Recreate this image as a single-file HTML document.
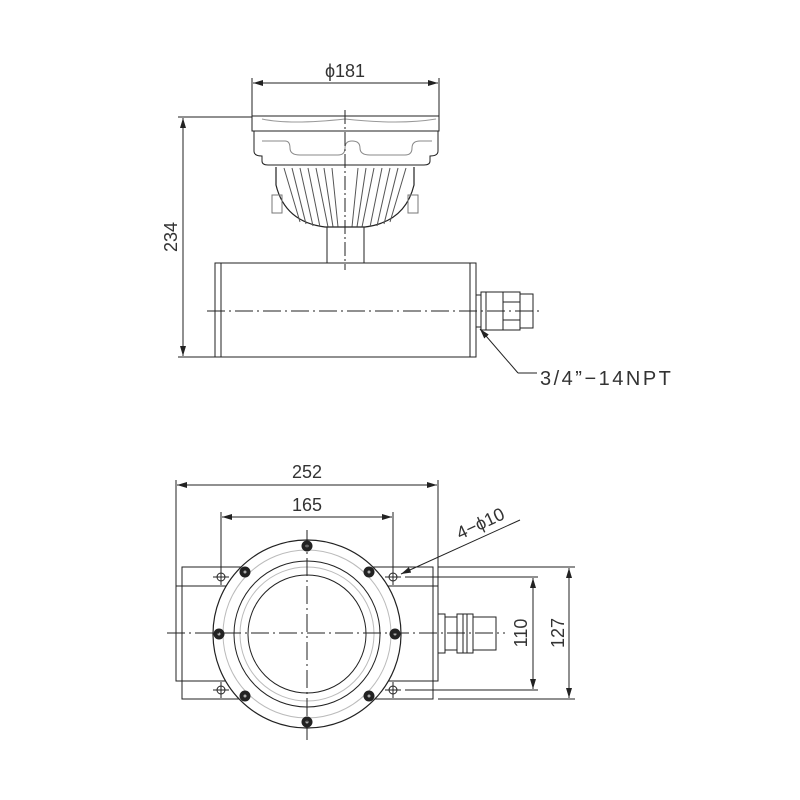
<!DOCTYPE html>
<html><head><style>body{margin:0;background:#fff}svg{display:block}</style></head><body>
<svg width="800" height="800" viewBox="0 0 800 800" xmlns="http://www.w3.org/2000/svg" font-family="Liberation Sans, sans-serif" fill="none" stroke="#222" stroke-width="1">
<defs>
<marker id="a" viewBox="0 0 10 6" refX="10" refY="3" markerWidth="10" markerHeight="6" orient="auto-start-reverse" markerUnits="userSpaceOnUse"><path d="M0,0 L10,3 L0,6z" fill="#222" stroke="none"/></marker>
</defs>
<!-- TOP VIEW -->
<line x1="252" y1="116" x2="252" y2="78"/><line x1="439" y1="116" x2="439" y2="78"/>
<line x1="253" y1="83" x2="438" y2="83" marker-start="url(#a)" marker-end="url(#a)"/>
<text x="345" y="77" font-size="18" fill="#333" stroke="none" text-anchor="middle">ϕ181</text>
<line x1="178" y1="117" x2="252" y2="117"/><line x1="178" y1="357" x2="215" y2="357"/>
<line x1="183" y1="118" x2="183" y2="356" marker-start="url(#a)" marker-end="url(#a)"/>
<text transform="translate(177,237) rotate(-90)" font-size="18" fill="#333" stroke="none" text-anchor="middle">234</text>
<!-- flange -->
<rect x="252" y="116" width="187" height="15"/>
<path d="M254,131 V151 Q254,156 262,156 V161 Q262,165 268,165 H424 Q430,165 430,161 V156 Q438,156 438,151 V131"/>
<path d="M262,141 H285 Q290,141 290,148 Q290,155 300,155 H338 Q345,155 345,148 Q345,141 352,141 Q360,141 360,148 Q360,155 370,155 H405 Q412,155 412,148 Q412,141 420,141 H432" stroke="#888"/>
<path d="M262,119 Q290,125 345,119 Q400,125 436,119" stroke="#999"/>
<!-- dome -->
<path d="M276,167 V185 Q285,222 325,227 H365 Q405,222 414,185 V167" stroke-width="1.2"/>
<path d="M272,195 H282 V213 H272 Z M408,195 H418 V213 H408 Z" stroke="#777"/>
<g stroke="#555">
<line x1="284" y1="168" x2="300" y2="222"/><line x1="292" y1="168" x2="306" y2="224"/><line x1="300" y1="168" x2="313" y2="226"/><line x1="308" y1="168" x2="320" y2="227"/><line x1="316" y1="168" x2="328" y2="227"/><line x1="324" y1="168" x2="333" y2="227"/><line x1="332" y1="168" x2="338" y2="227"/>
<line x1="406" y1="168" x2="390" y2="222"/><line x1="398" y1="168" x2="384" y2="224"/><line x1="390" y1="168" x2="377" y2="226"/><line x1="382" y1="168" x2="370" y2="227"/><line x1="374" y1="168" x2="362" y2="227"/><line x1="366" y1="168" x2="357" y2="227"/><line x1="358" y1="168" x2="352" y2="227"/>
</g>
<line x1="345" y1="110" x2="345" y2="270" stroke-dasharray="14,3,2,3"/>
<rect x="327" y="227" width="37" height="36"/>
<!-- body -->
<rect x="215" y="263" width="261" height="94"/>
<line x1="221" y1="263" x2="221" y2="357"/><line x1="470" y1="263" x2="470" y2="357"/>
<line x1="207" y1="311" x2="543" y2="311" stroke-dasharray="18,4,2,4"/>
<!-- connector -->
<rect x="476" y="295" width="5" height="32"/>
<rect x="481" y="292" width="22" height="38"/>
<line x1="486" y1="292" x2="486" y2="330"/>
<rect x="503" y="292" width="17" height="38"/>
<line x1="503" y1="302" x2="520" y2="302"/><line x1="503" y1="320" x2="520" y2="320"/>
<rect x="520" y="294" width="13" height="34"/>
<polyline points="518,373 537,373"/><line x1="518" y1="373" x2="480" y2="329" marker-end="url(#a)"/>
<text x="540" y="385" font-size="20" fill="#333" stroke="none" letter-spacing="2.5">3/4”−14NPT</text>
<!-- BOTTOM VIEW -->
<line x1="176" y1="480" x2="176" y2="586"/><line x1="438" y1="480" x2="438" y2="586"/>
<line x1="177" y1="485" x2="437" y2="485" marker-start="url(#a)" marker-end="url(#a)"/>
<text x="307" y="478" font-size="18" fill="#333" stroke="none" text-anchor="middle">252</text>
<line x1="221" y1="512" x2="221" y2="572"/><line x1="393" y1="512" x2="393" y2="572"/>
<line x1="222" y1="517" x2="392" y2="517" marker-start="url(#a)" marker-end="url(#a)"/>
<text x="307" y="511" font-size="18" fill="#333" stroke="none" text-anchor="middle">165</text>
<rect x="182" y="567" width="251" height="132"/>
<rect x="176" y="586" width="262" height="95"/>
<rect x="438" y="614" width="7" height="39"/>
<rect x="445" y="617" width="12" height="33"/>
<rect x="457" y="614" width="16" height="39"/>
<line x1="463" y1="614" x2="463" y2="653"/><line x1="467" y1="614" x2="467" y2="653"/>
<rect x="473" y="617" width="23" height="33"/>
<circle cx="307" cy="634" r="94" fill="#fff" stroke-width="1.2"/>
<circle cx="307" cy="634" r="84" stroke="#bbb"/>
<circle cx="307" cy="634" r="73"/>
<circle cx="307" cy="634" r="67" stroke="#bbb"/>
<circle cx="307" cy="634" r="59"/>
<g fill="#222" stroke="none">
<circle cx="307" cy="546" r="5.5"/><circle cx="307" cy="722" r="5.5"/><circle cx="219" cy="634" r="5.5"/><circle cx="395" cy="634" r="5.5"/>
<circle cx="245" cy="572" r="5.5"/><circle cx="369" cy="572" r="5.5"/><circle cx="245" cy="696" r="5.5"/><circle cx="369" cy="696" r="5.5"/>
</g>
<g fill="#aaa" stroke="none">
<circle cx="307" cy="546" r="1.5"/><circle cx="307" cy="722" r="1.5"/><circle cx="219" cy="634" r="1.5"/><circle cx="395" cy="634" r="1.5"/>
<circle cx="245" cy="572" r="1.5"/><circle cx="369" cy="572" r="1.5"/><circle cx="245" cy="696" r="1.5"/><circle cx="369" cy="696" r="1.5"/>
</g>
<g>
<circle cx="221" cy="577" r="4"/><line x1="213" y1="577" x2="229" y2="577"/><line x1="221" y1="569" x2="221" y2="585"/>
<circle cx="393" cy="577" r="4"/><line x1="385" y1="577" x2="401" y2="577"/><line x1="393" y1="569" x2="393" y2="585"/>
<circle cx="221" cy="690" r="4"/><line x1="213" y1="690" x2="229" y2="690"/><line x1="221" y1="682" x2="221" y2="698"/>
<circle cx="393" cy="690" r="4"/><line x1="385" y1="690" x2="401" y2="690"/><line x1="393" y1="682" x2="393" y2="698"/>
</g>
<line x1="167" y1="633" x2="505" y2="633" stroke-dasharray="18,4,2,4"/>
<line x1="307" y1="530" x2="307" y2="740" stroke-dasharray="18,4,2,4"/>
<line x1="520" y1="520" x2="401" y2="574" marker-end="url(#a)"/>
<text transform="translate(483,529) rotate(-25)" font-size="18" fill="#333" stroke="none" text-anchor="middle">4−ϕ10</text>
<line x1="405" y1="577" x2="538" y2="577"/><line x1="405" y1="690" x2="538" y2="690"/>
<line x1="533" y1="578" x2="533" y2="689" marker-start="url(#a)" marker-end="url(#a)"/>
<text transform="translate(527,633) rotate(-90)" font-size="18" fill="#333" stroke="none" text-anchor="middle">110</text>
<line x1="438" y1="567" x2="575" y2="567"/><line x1="438" y1="699" x2="575" y2="699"/>
<line x1="569" y1="568" x2="569" y2="698" marker-start="url(#a)" marker-end="url(#a)"/>
<text transform="translate(564,633) rotate(-90)" font-size="18" fill="#333" stroke="none" text-anchor="middle">127</text>
</svg>
</body></html>
